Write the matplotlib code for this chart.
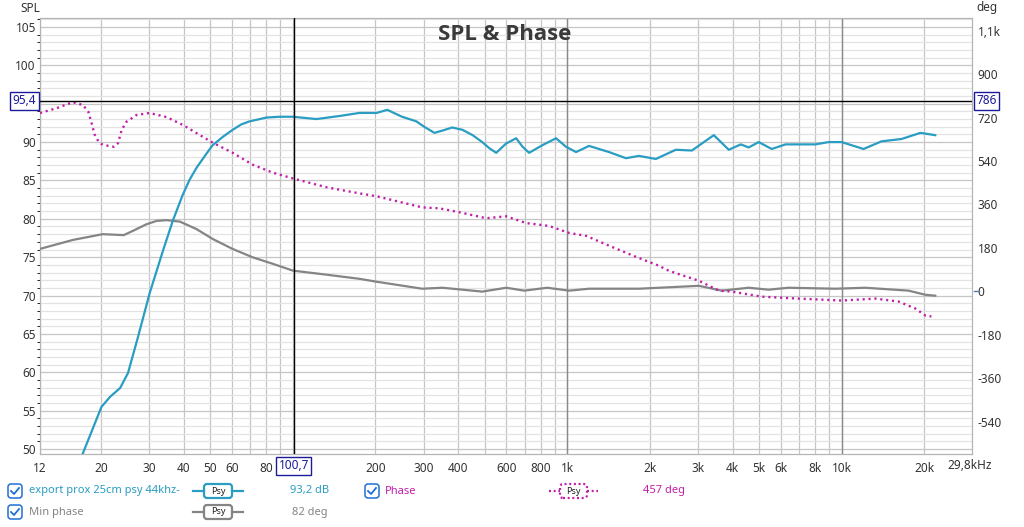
import matplotlib.pyplot as plt
from matplotlib.patches import FancyBboxPatch
from matplotlib.lines import Line2D
from matplotlib.transforms import blended_transform_factory

plt.rcParams['font.family'] = ['Noto Sans', 'DejaVu Sans']

W, H = 1024, 527

# SPL of the measurement (dB)
spl_freq = [17.0, 20.1, 21.6, 23.5, 25.1, 27.3, 30.1, 33.7, 36.6, 39.7, 42.1, 44.7,
            48.5, 51.1, 55.7, 60.4, 64.9, 69.6, 80.3, 89.5, 100, 122, 148, 175, 202,
            221, 250, 282, 301, 328, 351, 381, 415, 452, 490, 520, 551, 598, 651, 687,
            726, 812, 910, 988, 1076, 1200, 1419, 1636, 1824, 2102, 2485, 2843, 3417,
            3875, 4285, 4580, 4980, 5555, 6240, 8020, 8950, 9980, 12000, 13960, 16500,
            19330, 21900]
spl_db = [49.0, 55.5, 56.8, 57.95, 59.9, 64.6, 70.3, 75.9, 79.8, 83.1, 85.1, 86.7,
          88.5, 89.6, 90.7, 91.6, 92.3, 92.7, 93.2, 93.3, 93.3, 93.0, 93.4, 93.8, 93.8,
          94.2, 93.3, 92.7, 92.0, 91.2, 91.5, 91.9, 91.6, 90.9, 90.0, 89.2, 88.6, 89.8,
          90.5, 89.4, 88.6, 89.6, 90.5, 89.4, 88.7, 89.5, 88.7, 87.9, 88.2, 87.8, 89.0,
          88.9, 90.9, 89.0, 89.7, 89.3, 90.0, 89.1, 89.7, 89.7, 90.0, 90.0, 89.1, 90.1,
          90.4, 91.2, 90.9]

# measured phase (deg)
phase_freq = [12.0, 13.8, 15.8, 17.2, 18.0, 18.5, 19.0, 19.6, 20.3, 22.3, 23.1, 23.8,
              24.8, 27.0, 30.1, 34.7, 39.7, 51.1, 60.4, 71.4, 84.5, 100, 133, 175, 202,
              296, 342, 404, 507, 599, 708, 858, 1016, 1171, 1455, 1780, 2157, 2346,
              3016, 3565, 3975, 5110, 6960, 9980, 13270, 16080, 18530, 20150, 21200]
phase_deg = [739, 759, 784, 772, 744, 697, 648, 621, 607, 599, 614, 669,
             703, 731, 739, 722, 690, 616, 574, 525, 492, 468, 431, 406, 394,
             348, 344, 328, 303, 311, 283, 271, 242, 230, 184, 143, 106, 85,
             44, 3, -1, -22, -30, -38, -30, -42, -71, -100, -104]

# minimum phase (deg)
minph_freq = [12.0, 15.8, 20.3, 24.2, 26.2, 29.3, 31.9, 34.7, 38.8, 44.6, 51.1, 60.3,
              71.5, 84.7, 100, 133, 175, 202, 296, 351, 490, 599, 697, 845, 1016,
              1200, 1824, 2157, 3016, 3655, 4580, 5410, 6390, 9480, 12200, 17500,
              20150, 21900]
minph_deg = [176, 213, 237, 233, 251, 278, 292, 295, 289, 258, 217, 176,
             141, 114, 86, 69, 52, 40, 11, 15, -1, 15, 3, 15, 3,
             11, 11, 15, 23, 3, 15, 7, 15, 11, 15, 3,
             -14, -18]

grid_freq = [f * m for m in (10, 100, 1000, 10000) for f in range(1, 10)]
grid_freq = [f for f in grid_freq if 12 <= f <= 29800]
x_labels = {12: '12', 20: '20', 30: '30', 40: '40', 50: '50', 60: '60', 80: '80',
            200: '200', 300: '300', 400: '400', 600: '600', 800: '800',
            1000: '1k', 2000: '2k', 3000: '3k', 4000: '4k', 5000: '5k', 6000: '6k',
            8000: '8k', 10000: '10k', 20000: '20k'}
spl_ticks = list(range(50, 106, 5))
spl_labels = ['' if v == 95 else str(v) for v in spl_ticks]
deg_ticks = [-540, -360, -180, 0, 180, 360, 540, 720, 900, 1080]
deg_labels = ['-540', '-360', '-180', '0', '180', '360', '540', '720', '900', '1,1k']

cursor_freq = 100.7
cursor_db = 95.4
cursor_deg = 786

c_spl = '#2a9dc2'
c_phase = '#c21fa8'
c_min = '#858585'
c_txt = '#333333'
c_cur = '#1a1a9a'

fig = plt.figure(figsize=(W / 100, H / 100), dpi=100)
ax = fig.add_axes([40 / W, (H - 454) / H, (972 - 40) / W, (454 - 18) / H])
ax2 = ax.twinx()

ax.set_xscale('log')
ax.set_xlim(12, 29800)
ax.set_ylim(49.35, 106.17)
ax2.set_ylim(-673.8, 1132.6)

# grid
ax.set_xticks(grid_freq + [12])
ax.set_xticklabels([x_labels.get(f, '') for f in grid_freq + [12]])
ax.xaxis.set_minor_locator(plt.NullLocator())
ax.set_yticks(spl_ticks)
ax.set_yticklabels(spl_labels)
ax.set_yticks(range(50, 107), minor=True)
ax.grid(True, which='major', color='#c6c6c6', lw=0.9)
ax.grid(True, which='minor', axis='y', color='#e3e3e3', lw=0.9)
ax.set_axisbelow(True)
for f in (1000, 10000):
    ax.axvline(f, color='#8a8a8a', lw=1.0, zorder=1)

ax.tick_params(axis='both', length=0, labelsize=8.5, labelcolor=c_txt)
ax.tick_params(axis='x', pad=6)
ax.tick_params(axis='y', pad=3)
ax2.set_yticks(deg_ticks)
ax2.set_yticklabels(deg_labels)
ax2.tick_params(axis='y', length=0, labelsize=8.5, labelcolor=c_txt, pad=4)
for a in (ax, ax2):
    for s in a.spines.values():
        s.set_color('#b4b4b4')

ax.set_zorder(ax2.get_zorder() + 1)
ax.patch.set_visible(False)
ax2.patch.set_facecolor('white')

# curves (phase curves use the right axis scale, drawn on the front axes)
trans_deg = blended_transform_factory(ax.transData, ax2.transData)
ax.plot(minph_freq, minph_deg, color=c_min, lw=1.6, zorder=3, transform=trans_deg)
ax.plot(phase_freq, phase_deg, color=c_phase, lw=1.7, ls=(0, (0.9, 1.6)), zorder=3,
        transform=trans_deg)
ax.plot(spl_freq, spl_db, color=c_spl, lw=1.6, zorder=4)

# cursor
ax.axvline(cursor_freq, color='black', lw=1.0, zorder=5)
ax.axhline(cursor_db, color='black', lw=1.0, zorder=5)
tick0 = blended_transform_factory(ax2.transAxes, ax2.transData)
ax2.plot([1.002, 1.008], [0, 0], color='#5a7ab0', lw=1, transform=tick0, clip_on=False)

box = dict(boxstyle='square,pad=0.2', fc='white', ec=c_cur, lw=1)
ax.text(-0.004, cursor_db, f'{cursor_db}'.replace('.', ','),
        transform=blended_transform_factory(ax.transAxes, ax.transData),
        ha='right', va='center', fontsize=8.5, color=c_cur, bbox=box)
ax.text(1.005, cursor_db, f'{cursor_deg}',
        transform=blended_transform_factory(ax.transAxes, ax.transData),
        ha='left', va='center', fontsize=8.5, color=c_cur, bbox=box)
ax.text(cursor_freq, -0.027, f'{cursor_freq}'.replace('.', ','),
        transform=blended_transform_factory(ax.transData, ax.transAxes),
        ha='center', va='center', fontsize=8.5, color=c_cur, bbox=box)
ax.text(0.997, -0.027, '29,8kHz', transform=ax.transAxes, ha='center', va='center',
        fontsize=8.5, color=c_txt)


# texts in pixel coordinates
def P(x, y):
    return x / 100, (H - y) / 100


tr = fig.dpi_scale_trans
fig.text(*P(505, 35), 'SPL & Phase', transform=tr, ha='center', va='center',
         fontsize=16, fontweight='bold', color='#3a3a3a',
         family=['Open Sans', 'DejaVu Sans'])
fig.text(*P(20, 8), 'SPL', transform=tr, ha='left', va='center', fontsize=8.5, color=c_txt)
fig.text(*P(976, 8), 'deg', transform=tr, ha='left', va='center', fontsize=8.5, color=c_txt)


def checkbox(x, y):
    fig.patches.append(FancyBboxPatch(P(x - 7, y + 7), 0.14, 0.14, transform=tr,
                                      boxstyle='round,pad=0,rounding_size=0.03',
                                      fc='white', ec='#1f6fd6', lw=1.1))
    xs = [x - 4, x - 1, x + 4]
    ys = [y, y + 3, y - 3]
    fig.lines.append(Line2D([P(a, b)[0] for a, b in zip(xs, ys)],
                            [P(a, b)[1] for a, b in zip(xs, ys)],
                            transform=tr, color='#1f6fd6', lw=1.3))


def glyph(x0, x1, y, color, ls='-'):
    bx0, bx1 = x0 + 11, x1 - 11
    for xa, xb in ((x0, bx0), (bx1, x1)):
        fig.lines.append(Line2D([P(xa, y)[0], P(xb, y)[0]], [P(xa, y)[1], P(xb, y)[1]],
                                transform=tr, color=color, lw=1.6, ls=ls))
    fig.patches.append(FancyBboxPatch(P(bx0, y + 7), (bx1 - bx0) / 100, 0.14, transform=tr,
                                      boxstyle='round,pad=0,rounding_size=0.03',
                                      fc='white', ec=color, lw=1.6, ls=ls))
    fig.text(*P((x0 + x1) / 2, y), 'Psy', transform=tr, ha='center', va='center',
             fontsize=6.5, color='#222222')


row1, row2 = 491, 512
fs = 8.0
checkbox(15, row1)
fig.text(*P(29, row1), 'export prox 25cm psy 44khz-', transform=tr, va='center',
         fontsize=fs, color=c_spl)
glyph(193, 243, row1, c_spl)
fig.text(*P(290, row1), '93,2 dB', transform=tr, va='center', fontsize=fs, color=c_spl)
checkbox(372, row1)
fig.text(*P(385, row1), 'Phase', transform=tr, va='center', fontsize=fs, color=c_phase)
glyph(549, 598, row1, c_phase, ls=(0, (0.9, 1.2)))
fig.text(*P(643, row1), '457 deg', transform=tr, va='center', fontsize=fs, color=c_phase)

checkbox(15, row2)
fig.text(*P(29, row2), 'Min phase', transform=tr, va='center', fontsize=fs, color=c_min)
glyph(193, 243, row2, c_min)
fig.text(*P(292, row2), '82 deg', transform=tr, va='center', fontsize=fs, color=c_min)

fig.savefig('out.png', dpi=100, facecolor='white')
